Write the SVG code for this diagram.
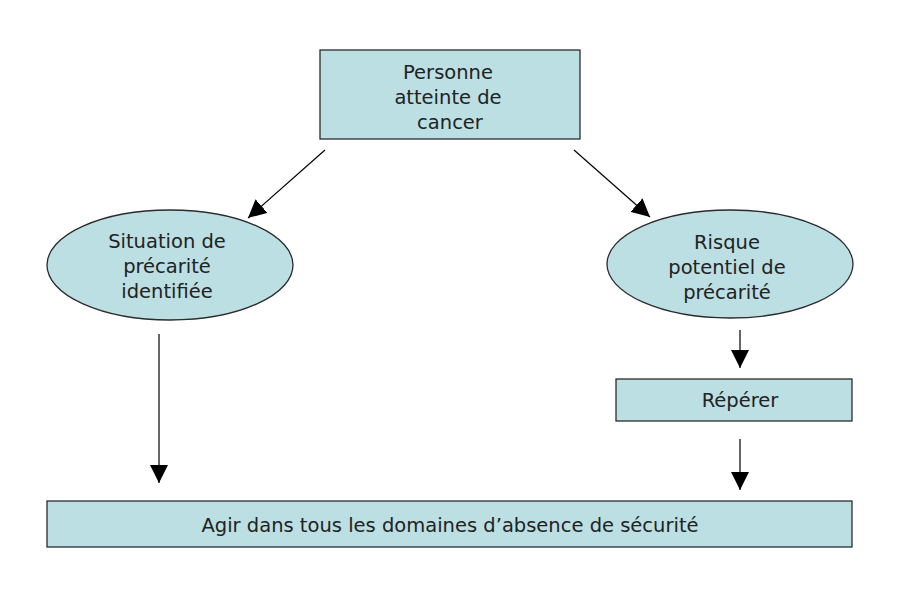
<svg xmlns="http://www.w3.org/2000/svg" width="900" height="600" viewBox="0 0 900 600">
<defs>
<style>
.box{fill:#bbdfe2;stroke:#2b2b2b;stroke-width:1.3}
.t{font-family:"DejaVu Sans","Noto Sans",sans-serif;font-size:19.5px;fill:#222;text-anchor:middle}
.c{stroke:#000;stroke-width:1.2;fill:none;marker-end:url(#ah)}
</style>
<marker id="ah" viewBox="0 0 10 10" refX="10" refY="5" markerUnits="userSpaceOnUse" markerWidth="18" markerHeight="18" orient="auto">
<path d="M0,0 L10,5 L0,10 Z" fill="#000"/>
</marker>
</defs>
<rect width="900" height="600" fill="#fff"/>
<g id="connectors">
<line class="c" x1="325" y1="150" x2="248" y2="218"/>
<line class="c" x1="574" y1="150" x2="650" y2="217"/>
<line class="c" x1="159" y1="334" x2="159" y2="483"/>
<line class="c" x1="740" y1="330" x2="740" y2="368"/>
<line class="c" x1="740" y1="439" x2="740" y2="490"/>
</g>
<g id="personne">
<rect class="box" x="320" y="50" width="260" height="89"/>
<text class="t" x="448" y="79">Personne</text>
<text class="t" x="448" y="104">atteinte de</text>
<text class="t" x="450" y="129">cancer</text>
</g>
<g id="situation">
<ellipse class="box" cx="170" cy="265" rx="123" ry="55"/>
<text class="t" x="167" y="248">Situation de</text>
<text class="t" x="167" y="273">précarité</text>
<text class="t" x="167" y="298">identifiée</text>
</g>
<g id="risque">
<ellipse class="box" cx="730" cy="264" rx="123" ry="54"/>
<text class="t" x="727" y="249">Risque</text>
<text class="t" x="727" y="274">potentiel de</text>
<text class="t" x="727" y="299">précarité</text>
</g>
<g id="reperer">
<rect class="box" x="616" y="379" width="236" height="42"/>
<text class="t" x="740" y="407">Répérer</text>
</g>
<g id="agir">
<rect class="box" x="47" y="501" width="805" height="46"/>
<text class="t" x="450" y="532">Agir dans tous les domaines d’absence de sécurité</text>
</g>
</svg>
